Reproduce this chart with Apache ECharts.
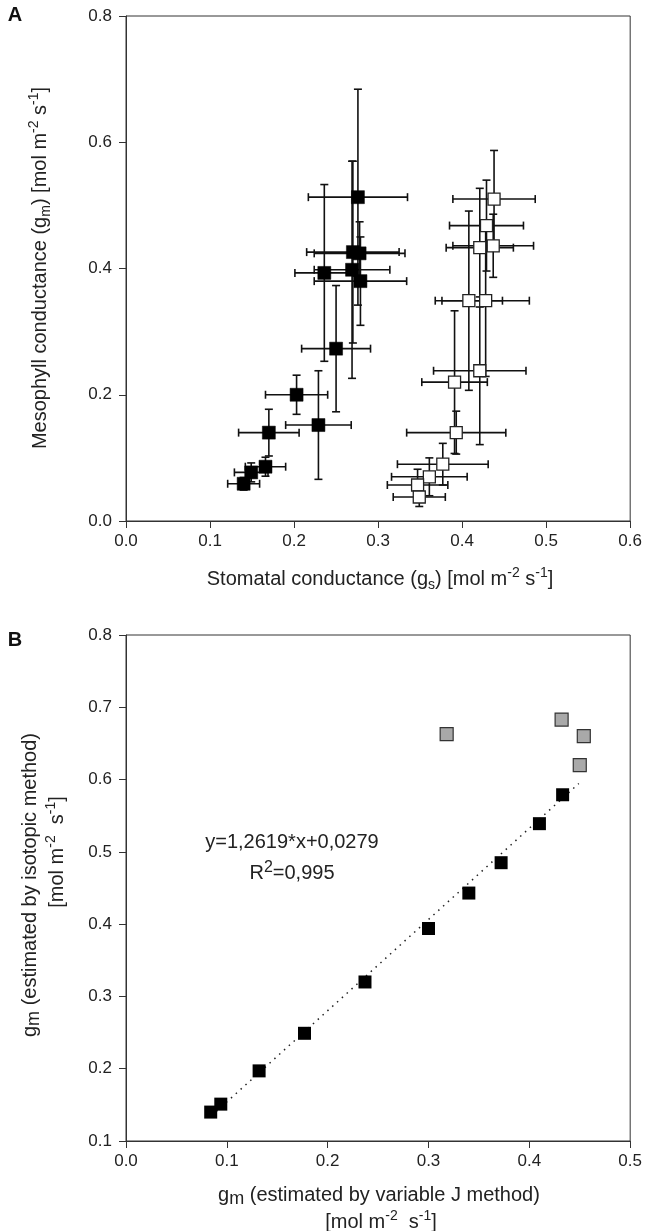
<!DOCTYPE html>
<html>
<head>
<meta charset="utf-8">
<script src="https://cdn.jsdelivr.net/npm/echarts@6/dist/echarts.min.js"></script>
<style>
  html, body { margin: 0; padding: 0; background: #fff; }
  #chart { width: 645px; height: 1231px; }
</style>
</head>
<body>
<div id="chart"></div>
<script>
// Panel A - closed squares (gs, gm, and their errors)
const closedGs    = [0.276, 0.270, 0.278, 0.269, 0.236, 0.279, 0.250, 0.203, 0.229, 0.170, 0.166, 0.149, 0.140];
const closedGm    = [0.513, 0.426, 0.424, 0.398, 0.393, 0.380, 0.273, 0.200, 0.152, 0.140, 0.086, 0.077, 0.059];
const closedGsErr = [0.059, 0.055, 0.054, 0.045, 0.035, 0.055, 0.041, 0.037, 0.039, 0.036, 0.024, 0.020, 0.019];
const closedGmErr = [0.171, 0.144, 0.050, 0.172, 0.140, 0.070, 0.100, 0.031, 0.086, 0.037, 0.015, 0.015, 0.010];

// Panel A - open squares
const openGs    = [0.438, 0.429, 0.421, 0.437, 0.408, 0.428, 0.421, 0.391, 0.393, 0.377, 0.361, 0.347, 0.349];
const openGm    = [0.510, 0.468, 0.433, 0.436, 0.349, 0.349, 0.238, 0.220, 0.140, 0.090, 0.070, 0.057, 0.038];
const openGsErr = [0.049, 0.044, 0.040, 0.048, 0.040, 0.052, 0.055, 0.039, 0.059, 0.054, 0.045, 0.036, 0.031];
const openGmErr = [0.077, 0.072, 0.094, 0.050, 0.142, 0.120, 0.117, 0.113, 0.034, 0.033, 0.030, 0.025, 0.015];

// Panel B - variable J vs isotopic
const varJ   = [0.084, 0.094, 0.132, 0.177, 0.237, 0.300, 0.340, 0.372, 0.410, 0.433];
const isoGm  = [0.140, 0.151, 0.197, 0.249, 0.320, 0.394, 0.443, 0.485, 0.539, 0.579];
const outVarJ  = [0.318, 0.432, 0.454, 0.450];
const outIsoGm = [0.663, 0.683, 0.660, 0.620];

// regression printed on the chart
const fitSlope = 1.2619;
const fitIntercept = 0.0279;
const fitRange = [0.085, 0.449];

const FONT = '"Liberation Sans", Arial, sans-serif';
const INK = '#222';

const zip = (a, b) => a.map((v, i) => [v, b[i]]);
const zip4 = (a, b, c, d) => a.map((v, i) => [v, b[i], c[i], d[i]]);

// draws x and y error bars with caps
function errorBars(params, api) {
    const x = api.value(0), y = api.value(1), ex = api.value(2), ey = api.value(3);
    const l = api.coord([x - ex, y]), r = api.coord([x + ex, y]);
    const t = api.coord([x, y + ey]), b = api.coord([x, y - ey]);
    const cap = 4;
    const st = { stroke: '#111', lineWidth: 1.6 };
    const line = (x1, y1, x2, y2) => ({ type: 'line', shape: { x1, y1, x2, y2 }, style: st });
    return {
        type: 'group',
        children: [
            line(l[0], l[1], r[0], r[1]),
            line(l[0], l[1] - cap, l[0], l[1] + cap),
            line(r[0], r[1] - cap, r[0], r[1] + cap),
            line(t[0], t[1], b[0], b[1]),
            line(t[0] - cap, t[1], t[0] + cap, t[1]),
            line(b[0] - cap, b[1], b[0] + cap, b[1])
        ]
    };
}

const axisCommon = {
    type: 'value',
    axisLine: { show: true, onZero: false, lineStyle: { color: '#333', width: 1 } },
    axisTick: { show: true, inside: false, length: 7, lineStyle: { color: '#333' } },
    splitLine: { show: false },
    axisLabel: { color: INK, fontSize: 17, fontFamily: FONT, formatter: v => v.toFixed(1) }
};
const xLabel = Object.assign({}, axisCommon.axisLabel, { margin: 12 });
const yLabel = Object.assign({}, axisCommon.axisLabel, { margin: 14 });

const richBase = {
    b:   { fontSize: 20, fontFamily: FONT, fill: INK, lineHeight: 26 },
    sb:  { fontSize: 14, fontFamily: FONT, fill: INK, lineHeight: 16, verticalAlign: 'bottom' },
    sp:  { fontSize: 14, fontFamily: FONT, fill: INK, lineHeight: 16, verticalAlign: 'top' },
    sm:  { fontSize: 18, fontFamily: FONT, fill: INK, lineHeight: 18, verticalAlign: 'bottom' },
    sp2: { fontSize: 16, fontFamily: FONT, fill: INK, lineHeight: 16, verticalAlign: 'top' }
};

function label(x, y, text, rot) {
    return {
        type: 'text', x: x, y: y, rotation: rot || 0, silent: true,
        style: { text: text, rich: richBase, align: 'center', verticalAlign: 'middle', fill: INK, fontSize: 20, fontFamily: FONT }
    };
}

const chart = echarts.init(document.getElementById('chart'));

const option = {
    animation: false,
    backgroundColor: '#fff',
    grid: [
        { left: 126, top: 16, width: 505, height: 505, show: true, borderColor: '#333', borderWidth: 1 },
        { left: 126, top: 635, width: 506, height: 506, show: true, borderColor: '#333', borderWidth: 1 }
    ],
    xAxis: [
        Object.assign({}, axisCommon, { gridIndex: 0, min: 0, max: 0.6, interval: 0.1, axisLabel: xLabel }),
        Object.assign({}, axisCommon, { gridIndex: 1, min: 0, max: 0.5, interval: 0.1, axisLabel: xLabel })
    ],
    yAxis: [
        Object.assign({}, axisCommon, { gridIndex: 0, min: 0, max: 0.8, interval: 0.2, axisLabel: yLabel }),
        Object.assign({}, axisCommon, { gridIndex: 1, min: 0.1, max: 0.8, interval: 0.1, axisLabel: yLabel })
    ],
    series: [
        {
            type: 'custom', xAxisIndex: 0, yAxisIndex: 0, silent: true, z: 2,
            renderItem: errorBars, encode: { x: 0, y: 1 },
            data: zip4(closedGs, closedGm, closedGsErr, closedGmErr)
        },
        {
            type: 'custom', xAxisIndex: 0, yAxisIndex: 0, silent: true, z: 2,
            renderItem: errorBars, encode: { x: 0, y: 1 },
            data: zip4(openGs, openGm, openGsErr, openGmErr)
        },
        {
            type: 'scatter', xAxisIndex: 0, yAxisIndex: 0, z: 4,
            symbol: 'rect', symbolSize: 13,
            itemStyle: { color: '#000', borderColor: '#000', borderWidth: 0.5, opacity: 1 },
            data: zip(closedGs, closedGm)
        },
        {
            type: 'scatter', xAxisIndex: 0, yAxisIndex: 0, z: 4,
            symbol: 'rect', symbolSize: 12,
            itemStyle: { color: '#fff', borderColor: '#222', borderWidth: 1.3, opacity: 1 },
            data: zip(openGs, openGm)
        },
        {
            type: 'line', xAxisIndex: 1, yAxisIndex: 1, z: 2,
            showSymbol: false, symbol: 'none',
            lineStyle: { color: '#222', width: 1.5, type: [1.5, 5] },
            data: fitRange.map(x => [x, fitSlope * x + fitIntercept])
        },
        {
            type: 'scatter', xAxisIndex: 1, yAxisIndex: 1, z: 4,
            symbol: 'rect', symbolSize: 13,
            itemStyle: { color: '#000', opacity: 1 },
            data: zip(varJ, isoGm)
        },
        {
            type: 'scatter', xAxisIndex: 1, yAxisIndex: 1, z: 4,
            symbol: 'rect', symbolSize: 13,
            itemStyle: { color: '#a9a9a9', borderColor: '#333', borderWidth: 1.2, opacity: 1 },
            data: zip(outVarJ, outIsoGm)
        }
    ],
    graphic: [
        { type: 'text', x: 15, y: 15, silent: true,
          style: { text: 'A', fontSize: 20, fontWeight: 'bold', fontFamily: FONT, fill: '#111', align: 'center', verticalAlign: 'middle' } },
        { type: 'text', x: 15, y: 640, silent: true,
          style: { text: 'B', fontSize: 20, fontWeight: 'bold', fontFamily: FONT, fill: '#111', align: 'center', verticalAlign: 'middle' } },
        label(380, 579, '{b|Stomatal conductance (g}{sb|s}{b|) [mol m}{sp|-2}{b| s}{sp|-1}{b|]}'),
        label(40, 268, '{b|Mesophyll conductance (g}{sb|m}{b|) [mol m}{sp|-2}{b| s}{sp|-1}{b|]}', Math.PI / 2),
        label(30, 885, '{b|g}{sm|m}{b| (estimated by isotopic method)}', Math.PI / 2),
        label(57, 852, '{b|[mol m}{sp|-2}{b|  s}{sp|-1}{b|]}', Math.PI / 2),
        label(379, 1195, '{b|g}{sm|m}{b| (estimated by variable J method)}'),
        label(381, 1222, '{b|[mol m}{sp|-2}{b|  s}{sp|-1}{b|]}'),
        label(292, 842, '{b|y=1,2619*x+0,0279}'),
        label(292, 873, '{b|R}{sp2|2}{b|=0,995}')
    ]
};

chart.setOption(option);
</script>
</body>
</html>
